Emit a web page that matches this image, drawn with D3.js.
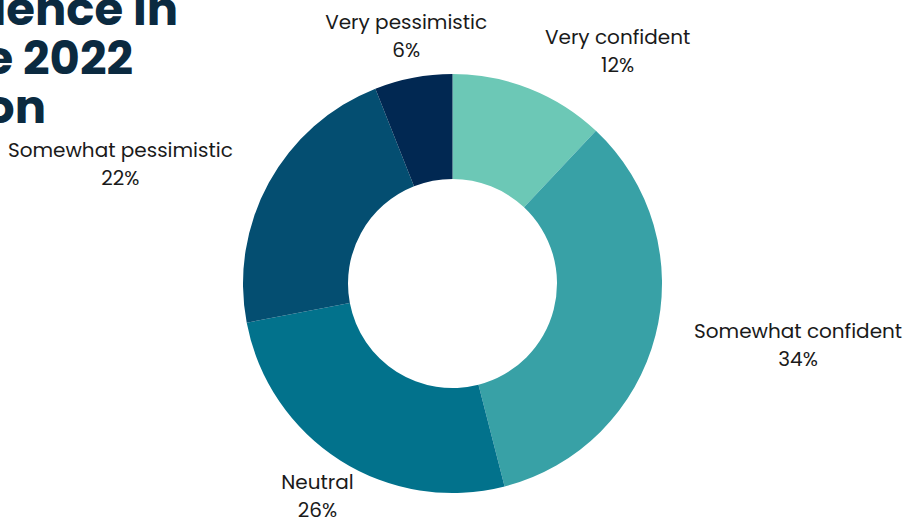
<!DOCTYPE html>
<html>
<head>
<meta charset="utf-8">
<script src="https://cdn.jsdelivr.net/npm/d3@7"></script>
<style>
  html, body { margin: 0; padding: 0; background: #fff; }
  svg { display: block; }
</style>
</head>
<body>
<script>
// survey answers, clockwise from 12 o'clock
const categories = ['Very confident', 'Somewhat confident', 'Neutral', 'Somewhat pessimistic', 'Very pessimistic'];
const shares = [12, 34, 26, 22, 6];
const sliceColors = ['#6cc8b6', '#38a1a6', '#02728c', '#044e71', '#012852'];
const titleLines = ['Confidence in', 'the 2022', 'election'];

// layout taken from the source slide (title runs off the left edge)
const titleEnds = [178, 133, 46];
const labelAngles = [35.4, 100.1, 212.4, 289.8, 349.4];
const labelRadii = [285, 351, 252, 353, 252];

const width = 906, height = 517;
const cx = 452.5, cy = 283.5;
const outerR = 209.5, innerR = 104.5;
const font = 'Poppins, Inter, "Noto Sans", sans-serif';

const svg = d3.select('body').append('svg')
    .attr('width', width)
    .attr('height', height);

// title
const title = svg.append('g')
    .attr('font-family', font)
    .attr('font-weight', 700)
    .attr('font-size', 44)
    .attr('fill', '#0b2a40')
    .attr('text-anchor', 'end');

// size the title so "2022" comes out about 110px wide, as in the source
const probe = title.append('text').text('2022');
const titleSize = 44 * 110 / probe.node().getComputedTextLength();
probe.remove();
title.attr('font-size', titleSize);

title.selectAll('text')
    .data(titleLines)
    .enter().append('text')
    .attr('x', (d, i) => titleEnds[i])
    .attr('y', (d, i) => 25 + i * 49)
    .text(d => d);

// donut
const pie = d3.pie().sort(null).value(d => d);
const arc = d3.arc().innerRadius(innerR).outerRadius(outerR);

const g = svg.append('g')
    .attr('transform', `translate(${cx},${cy})`);

g.selectAll('path')
    .data(pie(shares))
    .enter().append('path')
    .attr('d', arc)
    .attr('fill', (d, i) => sliceColors[i]);

// labels
const labels = g.selectAll('.lbl')
    .data(categories)
    .enter().append('text')
    .attr('class', 'lbl')
    .attr('font-family', font)
    .attr('font-size', 20)
    .attr('fill', '#1a1a1a')
    .attr('text-anchor', 'middle')
    .attr('transform', (d, i) => {
        const p = d3.pointRadial(labelAngles[i] * Math.PI / 180, labelRadii[i]);
        return `translate(${p[0]},${p[1]})`;
    });

labels.append('tspan')
    .attr('x', 0)
    .attr('y', -7)
    .text(d => d);

labels.append('tspan')
    .attr('x', 0)
    .attr('y', 21)
    .text((d, i) => shares[i] + '%');
</script>
</body>
</html>
